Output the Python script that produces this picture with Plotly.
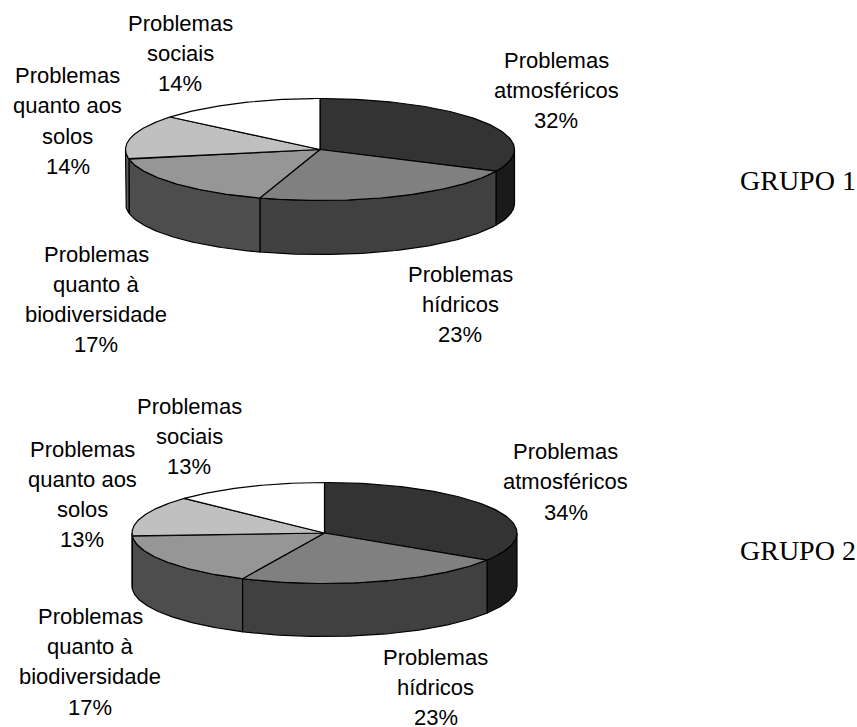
import numpy as np
import plotly.graph_objects as go

# Data
labels = [
    ["Problemas", "atmosféricos"],
    ["Problemas", "hídricos"],
    ["Problemas", "quanto à", "biodiversidade"],
    ["Problemas", "quanto aos", "solos"],
    ["Problemas", "sociais"],
]
grupo1_values = [32, 23, 17, 14, 14]
grupo2_values = [34, 23, 17, 13, 13]
group_names = ["GRUPO 1", "GRUPO 2"]

# Styles
top_colors = ["#333333", "#808080", "#969696", "#c0c0c0", "#ffffff"]
side_colors = ["#1a1a1a", "#404040", "#4d4d4d", "#606060", "#808080"]
W, H = 857, 727
FONT = "Liberation Sans, Arial, sans-serif"
SERIF = "Liberation Serif, Times New Roman, serif"
LABEL_SIZE = 22
NAME_SIZE = 28
LABEL_BASE_OFFSET = 7.7
NAME_BASE_OFFSET = 9.8

pies = [
    dict(values=grupo1_values, cx=320, cy=149.5, rx=194.5, ry=51, depth=54,
         name_pos=(797.5, 190.7),
         label_pos=[(556, 67.7), (460.3, 281.7), (96.3, 261.7), (67.5, 83.3), (180.3, 31)]),
    dict(values=grupo2_values, cx=324.5, cy=533, rx=192.5, ry=50.5, depth=53,
         name_pos=(798, 560.7),
         label_pos=[(565.8, 459.3), (435.7, 665), (90, 624), (82, 456.7), (189.2, 414)]),
]
PITCH = 30.3


def ell(p, deg, dy=0.0):
    t = np.radians(deg)
    return p["cx"] + p["rx"] * np.sin(t), p["cy"] - p["ry"] * np.cos(t) + dy


fig = go.Figure()
annotations = []


def poly(xs, ys, color):
    fig.add_trace(go.Scatter(x=xs, y=ys, mode="lines", fill="toself", fillcolor=color,
                             line=dict(color="#000000", width=1.2), hoverinfo="skip",
                             showlegend=False))


for p in pies:
    vals = np.array(p["values"], dtype=float)
    edges = np.concatenate([[0], np.cumsum(vals) / vals.sum() * 360])
    # Side walls: only the front half of the rim (90..270 degrees) is visible
    for i in range(len(vals)):
        a, b = max(edges[i], 90), min(edges[i + 1], 270)
        if b > a:
            th = np.linspace(a, b, 80)
            x1, y1 = ell(p, th)
            x2, y2 = ell(p, th[::-1], p["depth"])
            poly(np.r_[x1, x2, x1[0]], np.r_[y1, y2, y1[0]], side_colors[i])
    # Top faces
    for i in range(len(vals)):
        th = np.linspace(edges[i], edges[i + 1], 100)
        x1, y1 = ell(p, th)
        poly(np.r_[p["cx"], x1, p["cx"]], np.r_[p["cy"], y1, p["cy"]], top_colors[i])
    # Labels, one annotation per line to reproduce the wide line pitch
    for i, lines in enumerate(labels):
        all_lines = lines + [f"{p['values'][i]}%"]
        lx, ly = p["label_pos"][i]
        for k, s in enumerate(all_lines):
            annotations.append(dict(x=lx, y=ly + k * PITCH - LABEL_BASE_OFFSET, text=s,
                                    showarrow=False, xref="x", yref="y",
                                    xanchor="center", yanchor="middle",
                                    font=dict(family=FONT, size=LABEL_SIZE, color="#000000")))

for name, p in zip(group_names, pies):
    annotations.append(dict(x=p["name_pos"][0], y=p["name_pos"][1] - NAME_BASE_OFFSET, text=name,
                            showarrow=False, xref="x", yref="y",
                            xanchor="center", yanchor="middle",
                            font=dict(family=SERIF, size=NAME_SIZE, color="#000000")))

fig.update_layout(
    width=W, height=H, margin=dict(l=0, r=0, t=0, b=0, pad=0),
    paper_bgcolor="#ffffff", plot_bgcolor="#ffffff", showlegend=False,
    xaxis=dict(visible=False, range=[0, W], fixedrange=True),
    yaxis=dict(visible=False, range=[H, 0], fixedrange=True),
    annotations=annotations,
)
fig.write_html("out.html", config=dict(displayModeBar=False), include_plotlyjs=True,
               default_width=f"{W}px", default_height=f"{H}px",
               post_script="document.body.style.margin='0';document.documentElement.style.overflow='hidden';")
